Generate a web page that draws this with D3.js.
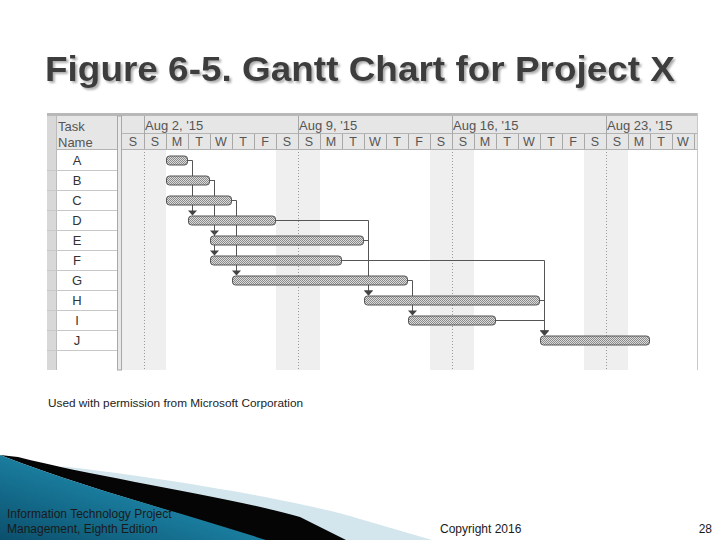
<!DOCTYPE html>
<html>
<head>
<meta charset="utf-8">
<script src="https://cdn.jsdelivr.net/npm/d3@7"></script>
<style>
  body { margin: 0; background: #fff; }
  svg { display: block; font-family: "Liberation Sans", Arial, sans-serif; }
</style>
</head>
<body>
<div id="chart"></div>
<script>
// task data
var tasks = ["A", "B", "C", "D", "E", "F", "G", "H", "I", "J"];
var starts = ["2015-08-03", "2015-08-03", "2015-08-03", "2015-08-04", "2015-08-05",
              "2015-08-05", "2015-08-06", "2015-08-12", "2015-08-14", "2015-08-20"];
var durations = [1, 2, 3, 4, 7, 6, 8, 8, 4, 5];

// dependencies (predecessor -> successor)
var linkFrom = ["A", "B", "B", "C", "D", "E", "F", "G", "H", "I"];
var linkTo   = ["D", "E", "F", "G", "H", "H", "J", "I", "J", "J"];

var weekLabels = ["Aug 2, '15", "Aug 9, '15", "Aug 16, '15", "Aug 23, '15"];
var dayLetters = ["S", "M", "T", "W", "T", "F", "S"];

var parse = d3.timeParse("%Y-%m-%d");
var first = parse("2015-08-01"), last = parse("2015-08-27");

var svg = d3.select("#chart").append("svg")
    .attr("width", 720).attr("height", 540);

var defs = svg.append("defs");
var pat = defs.append("pattern").attr("id", "dots")
    .attr("width", 2).attr("height", 2).attr("patternUnits", "userSpaceOnUse");
pat.append("rect").attr("width", 2).attr("height", 2).attr("fill", "#dcdcdc");
pat.append("rect").attr("width", 1).attr("height", 1).attr("fill", "#8a8a8a");
pat.append("rect").attr("x", 1).attr("y", 1).attr("width", 1).attr("height", 1).attr("fill", "#8a8a8a");

var teal = defs.append("linearGradient").attr("id", "teal")
    .attr("x1", 0).attr("y1", 1).attr("x2", 1).attr("y2", 0);
teal.append("stop").attr("offset", 0).attr("stop-color", "#0b4f6c");
teal.append("stop").attr("offset", 0.6).attr("stop-color", "#1d86a8");
teal.append("stop").attr("offset", 1).attr("stop-color", "#54b3d0");

var shadow = defs.append("filter").attr("id", "shadow")
    .attr("x", "-5%").attr("y", "-20%").attr("width", "110%").attr("height", "140%");
shadow.append("feDropShadow").attr("dx", 2).attr("dy", 2).attr("stdDeviation", 1)
    .attr("flood-color", "#999").attr("flood-opacity", 0.8);

// title
svg.append("text")
    .attr("x", 360).attr("y", 81).attr("text-anchor", "middle")
    .attr("font-size", 35).attr("font-weight", "bold").attr("fill", "#3d3d3d")
    .attr("textLength", 630).attr("lengthAdjust", "spacingAndGlyphs")
    .attr("filter", "url(#shadow)")
    .text("Figure 6-5. Gantt Chart for Project X");

// scales
var x = d3.scaleTime().domain([first, last]).range([122, 694]);
var y = d3.scaleBand().domain(tasks).range([150, 350]);
var bodyTop = 149, bodyBottom = 370;
var days = d3.timeDay.range(first, last);
var weeks = d3.timeSunday.range(first, last);
var dayW = x(days[1]) - x(days[0]);

// timeline body
svg.append("rect").attr("x", 122).attr("y", bodyTop).attr("width", 575)
    .attr("height", bodyBottom - bodyTop).attr("fill", "#fff");
svg.append("g").selectAll("rect")
  .data(days.filter(function(d) { return d.getDay() === 0 || d.getDay() === 6; }))
  .join("rect")
    .attr("x", function(d) { return x(d); })
    .attr("y", bodyTop).attr("width", dayW)
    .attr("height", bodyBottom - bodyTop).attr("fill", "#efefef");
svg.append("g").selectAll("line")
  .data(weeks).join("line")
    .attr("x1", function(d) { return x(d) + 0.5; })
    .attr("x2", function(d) { return x(d) + 0.5; })
    .attr("y1", bodyTop).attr("y2", bodyBottom)
    .attr("stroke", "#999").attr("stroke-dasharray", "1,2");

// header
svg.append("rect").attr("x", 47).attr("y", 113).attr("width", 650).attr("height", 3).attr("fill", "#b8b8b8");
svg.append("rect").attr("x", 47).attr("y", 116).attr("width", 650).attr("height", 33).attr("fill", "#e6e6e6");
svg.append("line").attr("x1", 122).attr("x2", 697).attr("y1", 133.5).attr("y2", 133.5).attr("stroke", "#b4b4b4");
svg.append("line").attr("x1", 47).attr("x2", 697).attr("y1", 149.5).attr("y2", 149.5).attr("stroke", "#b4b4b4");

svg.append("g").selectAll("line")
  .data(days.slice(1).concat([last])).join("line")
    .attr("x1", function(d) { return x(d) + 0.5; })
    .attr("x2", function(d) { return x(d) + 0.5; })
    .attr("y1", 134).attr("y2", 149).attr("stroke", "#a8a8a8");
svg.append("g").selectAll("line")
  .data(weeks).join("line")
    .attr("x1", function(d) { return x(d) + 0.5; })
    .attr("x2", function(d) { return x(d) + 0.5; })
    .attr("y1", 116).attr("y2", 134).attr("stroke", "#a8a8a8");

svg.append("g").selectAll("text")
  .data(days).join("text")
    .attr("x", function(d) { return x(d) + dayW / 2; })
    .attr("y", 146).attr("text-anchor", "middle")
    .attr("font-size", 12.5).attr("fill", "#555")
    .text(function(d) { return dayLetters[d.getDay()]; });
svg.append("g").selectAll("text")
  .data(weeks).join("text")
    .attr("x", function(d) { return x(d) + 1; })
    .attr("y", 130).attr("font-size", 13).attr("fill", "#555")
    .text(function(d, i) { return weekLabels[i]; });

// task name column
svg.append("rect").attr("x", 47).attr("y", 116).attr("width", 9).attr("height", bodyBottom - 116).attr("fill", "#d8d8d8");
svg.append("rect").attr("x", 56).attr("y", bodyTop + 1).attr("width", 61).attr("height", bodyBottom - bodyTop - 1).attr("fill", "#fff");
svg.append("rect").attr("x", 117.5).attr("y", 116).attr("width", 4).attr("height", bodyBottom - 116)
    .attr("fill", "#e8e8e8").attr("stroke", "#a8a8a8");
svg.append("line").attr("x1", 56.5).attr("x2", 56.5).attr("y1", 116).attr("y2", bodyBottom).attr("stroke", "#bbb");
svg.append("text").attr("x", 58).attr("y", 131).attr("font-size", 13).attr("fill", "#555").text("Task");
svg.append("text").attr("x", 58).attr("y", 147).attr("font-size", 13).attr("fill", "#555").text("Name");

svg.append("g").selectAll("line")
  .data(tasks).join("line")
    .attr("x1", 47).attr("x2", 117)
    .attr("y1", function(d) { return y(d) + y.bandwidth() + 0.5; })
    .attr("y2", function(d) { return y(d) + y.bandwidth() + 0.5; })
    .attr("stroke", "#c8c8c8");
svg.append("g").selectAll("text")
  .data(tasks).join("text")
    .attr("x", 77).attr("text-anchor", "middle")
    .attr("y", function(d) { return y(d) + y.bandwidth() / 2 + 5; })
    .attr("font-size", 13).attr("fill", "#333")
    .text(function(d) { return d; });

svg.append("line").attr("x1", 697.5).attr("x2", 697.5).attr("y1", 113).attr("y2", bodyBottom).attr("stroke", "#c8c8c8");

// bars
var barH = 9;
var info = {};
tasks.forEach(function(t, i) {
  var s = parse(starts[i]);
  info[t] = { start: s, end: d3.timeDay.offset(s, durations[i]) };
});

// links
var links = linkFrom.map(function(f, i) { return { from: f, to: linkTo[i] }; });
var lg = svg.append("g");
links.forEach(function(l) {
  var p = info[l.from], s = info[l.to];
  var px = x(p.end), py = y(l.from) + y.bandwidth() / 2;
  var sx = x(s.start) + 4, sy = y(l.to) + (y.bandwidth() - barH) / 2;
  var vx = Math.max(sx, px + 4);
  lg.append("path")
    .attr("d", "M" + px + "," + (py + 0.5) + "H" + (vx + 0.5) + "V" + (sy - 4))
    .attr("fill", "none").attr("stroke", "#555").attr("stroke-width", 1);
  lg.append("path")
    .attr("d", "M" + (vx - 4) + "," + (sy - 5) + "L" + (vx + 5) + "," + (sy - 5) + "L" + (vx + 0.5) + "," + sy + "Z")
    .attr("fill", "#444");
});

svg.append("g").selectAll("rect")
  .data(tasks).join("rect")
    .attr("x", function(d) { return x(info[d].start) + 0.5; })
    .attr("y", function(d) { return y(d) + (y.bandwidth() - barH) / 2 + 0.5; })
    .attr("width", function(d) { return x(info[d].end) - x(info[d].start) - 1; })
    .attr("height", barH).attr("rx", 3)
    .attr("fill", "url(#dots)").attr("stroke", "#555");

svg.append("text").attr("x", 48).attr("y", 407).attr("font-size", 11.8).attr("fill", "#222")
    .text("Used with permission from Microsoft Corporation");

// footer swoosh
svg.append("path")
    .attr("d", "M60,466 C150,476 300,500 360,519 L432,540 L300,540 Z")
    .attr("fill", "#d3e6ed");
svg.append("path")
    .attr("d", "M18,457 C100,478 230,497 300,517 L346,540 L260,540 C180,512 90,490 0,455 Z")
    .attr("fill", "#050505");
svg.append("path")
    .attr("d", "M0,455 C90,490 180,512 266,540 L0,540 Z")
    .attr("fill", "url(#teal)");

svg.append("text").attr("x", 7).attr("y", 518).attr("font-size", 12).attr("fill", "#1a1a1a")
    .text("Information Technology Project");
svg.append("text").attr("x", 7).attr("y", 533).attr("font-size", 12).attr("fill", "#1a1a1a")
    .text("Management, Eighth Edition");
svg.append("text").attr("x", 440).attr("y", 533).attr("font-size", 12).attr("fill", "#1a1a1a")
    .text("Copyright 2016");
svg.append("text").attr("x", 712).attr("y", 533).attr("font-size", 12).attr("fill", "#1a1a1a")
    .attr("text-anchor", "end").text("28");
</script>
</body>
</html>
